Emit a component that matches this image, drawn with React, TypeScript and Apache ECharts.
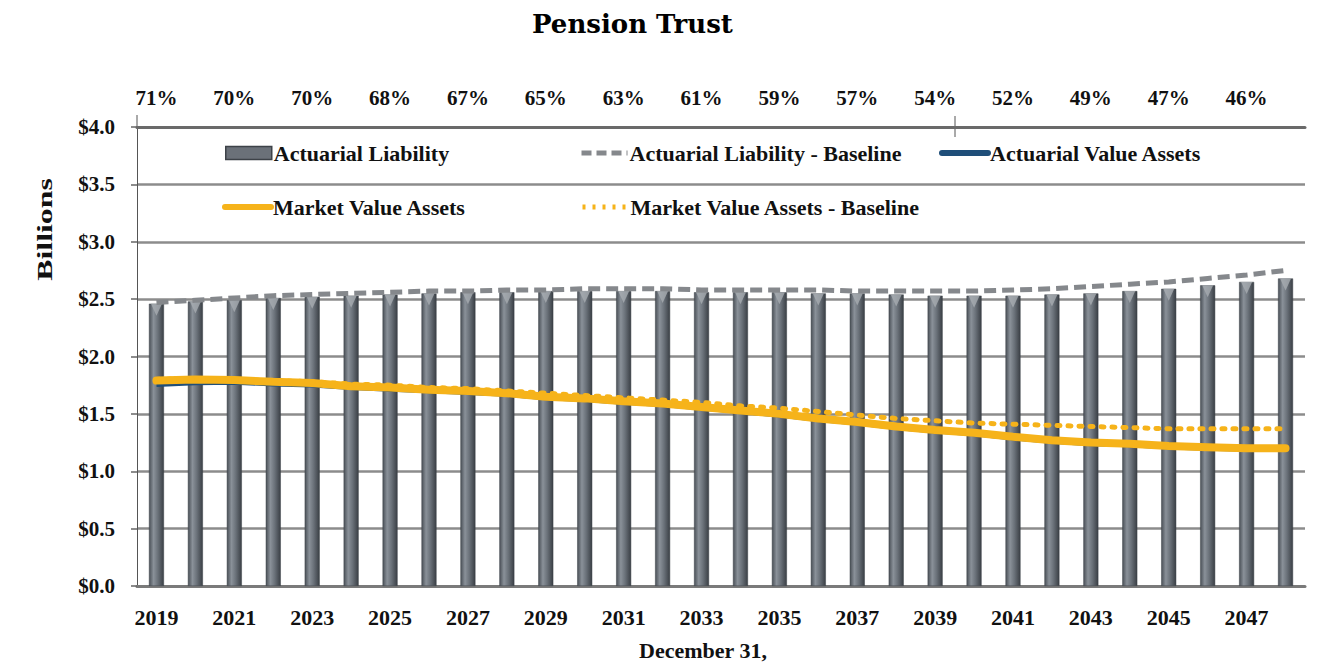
import React, { useEffect, useRef } from "react";
import * as echarts from "echarts";

const years = [
  "2019", "2020", "2021", "2022", "2023", "2024", "2025", "2026", "2027", "2028",
  "2029", "2030", "2031", "2032", "2033", "2034", "2035", "2036", "2037", "2038",
  "2039", "2040", "2041", "2042", "2043", "2044", "2045", "2046", "2047", "2048",
];

// funded ratio shown above every other year (2019, 2021, ..., 2047)
const fundedRatio = [71, 70, 70, 68, 67, 65, 63, 61, 59, 57, 54, 52, 49, 47, 46];

const actuarialLiability = [
  2.46, 2.48, 2.49, 2.51, 2.52, 2.53, 2.54, 2.55, 2.56, 2.56,
  2.57, 2.57, 2.57, 2.57, 2.56, 2.56, 2.56, 2.55, 2.55, 2.54,
  2.53, 2.53, 2.53, 2.54, 2.55, 2.57, 2.59, 2.62, 2.65, 2.68,
];

const liabilityBaseline = [
  2.47, 2.49, 2.51, 2.53, 2.54, 2.55, 2.56, 2.57, 2.57, 2.58,
  2.58, 2.59, 2.59, 2.59, 2.58, 2.58, 2.58, 2.58, 2.57, 2.57,
  2.57, 2.57, 2.58, 2.59, 2.61, 2.63, 2.65, 2.68, 2.71, 2.75,
];

const actuarialValueAssets = [
  1.76, 1.775, 1.78, 1.765, 1.755, 1.735, 1.72, 1.705, 1.69, 1.675,
  1.645, 1.63, 1.605, 1.585, 1.555, 1.525, 1.495, 1.455, 1.425, 1.385,
  1.355, 1.33, 1.295, 1.265, 1.245, 1.235, 1.215, 1.205, 1.195, 1.195,
];

const marketValueAssets = [
  1.79, 1.80, 1.795, 1.78, 1.77, 1.74, 1.73, 1.71, 1.70, 1.68,
  1.65, 1.635, 1.61, 1.59, 1.56, 1.53, 1.50, 1.46, 1.43, 1.39,
  1.36, 1.335, 1.30, 1.27, 1.25, 1.24, 1.22, 1.21, 1.20, 1.20,
];

const marketValueBaseline = [
  1.80, 1.81, 1.80, 1.79, 1.78, 1.76, 1.75, 1.73, 1.72, 1.70,
  1.68, 1.66, 1.64, 1.62, 1.60, 1.57, 1.55, 1.52, 1.49, 1.46,
  1.44, 1.42, 1.41, 1.40, 1.39, 1.38, 1.37, 1.37, 1.37, 1.37,
];

const FONT = "'Liberation Serif', 'Times New Roman', serif";
const ORANGE = "#F6B31A";
const BLUE = "#1F4E79";
const DASH_GRAY = "#85888c";

const barGradient = new echarts.graphic.LinearGradient(0, 0, 1, 0, [
  { offset: 0, color: "#4a5057" },
  { offset: 0.3, color: "#8a9199" },
  { offset: 0.6, color: "#6a7179" },
  { offset: 1, color: "#3a3f45" },
]);

export default function App() {
  const ref = useRef<HTMLDivElement>(null);

  useEffect(() => {
    if (!ref.current) return;
    const chart = echarts.init(ref.current, undefined, { renderer: "svg" });

    const legendText = {
      fontFamily: FONT,
      fontWeight: "bold" as const,
      fontSize: 22,
      color: "#111",
      padding: [0, 0, 0, -3],
    };
    const mkLegend = (name: string, left: number, top: number, extra: any = {}) => ({
      data: [{ name, ...extra }],
      left,
      top,
      padding: 0,
      itemWidth: 46,
      itemHeight: 13,
      itemGap: 6,
      selectedMode: false,
      textStyle: legendText,
    });
    const lineIcon = (width: number, type: any = "solid") => ({
      itemStyle: { opacity: 0 },
      lineStyle: { width, type, cap: type === "solid" ? "round" : "butt" },
    });

    chart.setOption({
      animation: false,
      backgroundColor: "#ffffff",
      title: {
        text: "Pension Trust",
        left: 532,
        top: 11,
        padding: 0,
        textStyle: {
          fontFamily: "'DejaVu Serif', serif",
          fontWeight: "bold",
          fontSize: 26,
          color: "#000",
        },
      },
      grid: { left: 137, right: 30, top: 127, bottom: 83, containLabel: false },
      legend: [
        mkLegend("Actuarial Liability", 225, 142, {
          icon: "rect",
          itemStyle: { color: "#6b7179", borderColor: "#3d4248", borderWidth: 1.5 },
        }),
        mkLegend("Actuarial Liability - Baseline", 579, 142, lineIcon(5, [10, 5])),
        mkLegend("Actuarial Value Assets", 939, 142, lineIcon(6)),
        mkLegend("Market Value Assets", 222, 196, lineIcon(6)),
        mkLegend("Market Value Assets - Baseline", 580, 196, lineIcon(5, [3, 7])),
      ],
      xAxis: [
        {
          type: "category",
          data: years,
          position: "bottom",
          boundaryGap: true,
          axisLine: { show: true, lineStyle: { color: "#7a7a7a", width: 3 } },
          axisTick: { show: false },
          axisLabel: {
            interval: 1,
            margin: 20,
            fontFamily: FONT,
            fontWeight: "bold",
            fontSize: 22,
            color: "#111",
          },
        },
        {
          type: "category",
          data: years,
          position: "top",
          boundaryGap: true,
          axisLine: { show: true, lineStyle: { color: "#6a6a6a", width: 3 } },
          axisTick: { show: false },
          axisLabel: {
            interval: 0,
            margin: 19,
            fontFamily: FONT,
            fontWeight: "bold",
            fontSize: 21,
            color: "#111",
            formatter: (_v: string, idx: number) =>
              idx % 2 === 0 && fundedRatio[idx / 2] !== undefined
                ? `${fundedRatio[idx / 2]}%`
                : "",
          },
        },
      ],
      yAxis: {
        type: "value",
        min: 0,
        max: 4,
        interval: 0.5,
        axisLine: { show: true, lineStyle: { color: "#555", width: 1 } },
        axisTick: { show: true, length: 6, lineStyle: { color: "#666", width: 1.5 } },
        splitLine: { show: true, lineStyle: { color: "#8c8c8c", width: 2.5 } },
        axisLabel: {
          margin: 22,
          fontFamily: FONT,
          fontWeight: "bold",
          fontSize: 21,
          color: "#111",
          formatter: (v: number) => `$${v.toFixed(1)}`,
        },
      },
      graphic: [
        {
          type: "text",
          left: 34,
          top: 178,
          rotation: Math.PI / 2,
          style: {
            text: "Billions",
            fontFamily: FONT,
            fontWeight: "bold",
            fontSize: 22,
            fill: "#111",
          },
          scaleX: 1.45,
        },
        {
          type: "text",
          x: 703,
          y: 650,
          style: {
            text: "December 31,",
            fontFamily: FONT,
            fontWeight: "bold",
            fontSize: 22,
            fill: "#111",
            align: "center",
            verticalAlign: "middle",
          },
        },
        {
          type: "line",
          shape: { x1: 137, y1: 115, x2: 137, y2: 128 },
          style: { stroke: "#555", lineWidth: 1 },
        },
        {
          type: "line",
          shape: { x1: 955, y1: 116, x2: 955, y2: 137 },
          style: { stroke: "#555", lineWidth: 1 },
        },
      ],
      series: [
        {
          name: "Actuarial Liability",
          type: "bar",
          data: actuarialLiability,
          barWidth: 15,
          itemStyle: { color: barGradient, borderColor: "#3d4248", borderWidth: 0.5 },
          z: 2,
        },
        {
          name: "Liability top",
          type: "scatter",
          data: actuarialLiability,
          symbol: "triangle",
          symbolRotate: 180,
          symbolSize: [11, 12],
          symbolOffset: [0, 6],
          silent: true,
          itemStyle: { color: "#a7acb2" },
          z: 3,
        },
        {
          name: "Actuarial Liability - Baseline",
          type: "line",
          data: liabilityBaseline,
          symbol: "none",
          itemStyle: { color: DASH_GRAY },
          lineStyle: { color: DASH_GRAY, width: 5, type: [12, 6] },
          z: 4,
        },
        {
          name: "Actuarial Value Assets",
          type: "line",
          data: actuarialValueAssets,
          symbol: "none",
          itemStyle: { color: BLUE },
          lineStyle: { color: BLUE, width: 6 },
          z: 5,
        },
        {
          name: "Market Value Assets",
          type: "line",
          data: marketValueAssets,
          symbol: "none",
          itemStyle: { color: ORANGE },
          lineStyle: { color: ORANGE, width: 8, cap: "round" },
          z: 6,
        },
        {
          name: "Market Value Assets - Baseline",
          type: "line",
          data: marketValueBaseline,
          symbol: "none",
          itemStyle: { color: ORANGE },
          lineStyle: { color: ORANGE, width: 5, type: [3, 8], cap: "round" },
          z: 7,
        },
      ],
    });

    return () => chart.dispose();
  }, []);

  return (
    <div
      ref={ref}
      style={{ position: "fixed", left: 0, top: 0, width: 1335, height: 669, background: "#fff" }}
    />
  );
}
